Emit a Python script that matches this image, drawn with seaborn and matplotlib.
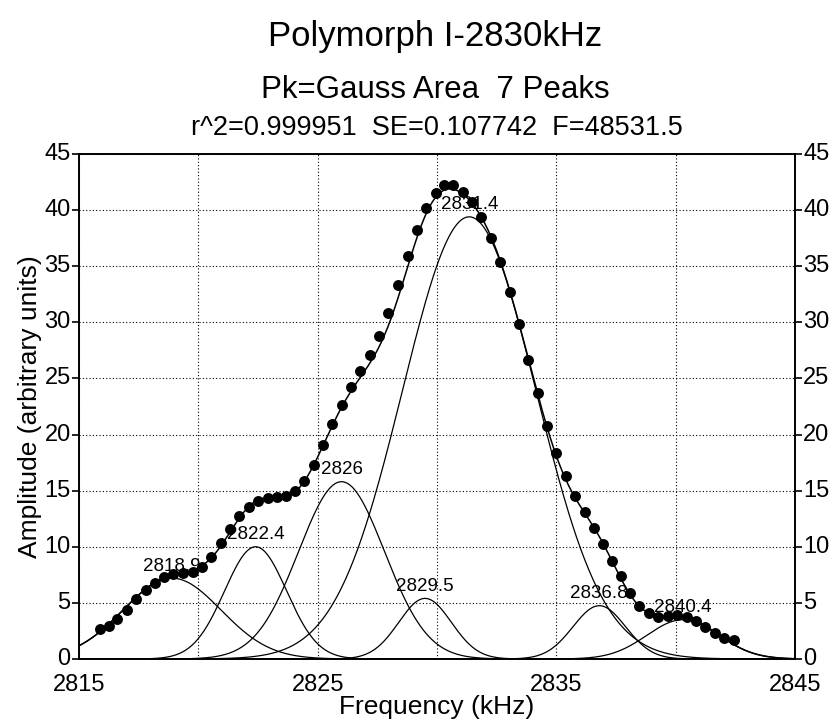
import numpy as np
import pandas as pd
import matplotlib
matplotlib.use('Agg')
import matplotlib.pyplot as plt
import matplotlib.transforms as mtransforms
import seaborn as sns
from matplotlib.ticker import MultipleLocator

# measured points (frequency in kHz, amplitude)
freq = [2815.88, 2816.27, 2816.60, 2817.00, 2817.40, 2817.79, 2818.18, 2818.57, 2818.95, 2819.34,
        2819.76, 2820.15, 2820.54, 2820.94, 2821.33, 2821.72, 2822.12, 2822.51, 2822.91, 2823.29,
        2823.66, 2824.05, 2824.44, 2824.83, 2825.22, 2825.61, 2826.00, 2826.39, 2826.79, 2827.18,
        2827.57, 2827.96, 2828.36, 2828.77, 2829.16, 2829.55, 2829.94, 2830.30, 2830.68, 2831.07,
        2831.46, 2831.85, 2832.25, 2832.64, 2833.04, 2833.43, 2833.82, 2834.22, 2834.61, 2835.00,
        2835.40, 2835.79, 2836.19, 2836.58, 2836.96, 2837.32, 2837.72, 2838.08, 2838.47, 2838.87,
        2839.27, 2839.68, 2840.07, 2840.46, 2840.85, 2841.24, 2841.63, 2842.04, 2842.43]
amp = [2.65, 2.97, 3.56, 4.37, 5.32, 6.15, 6.80, 7.28, 7.55, 7.64,
       7.78, 8.23, 9.06, 10.37, 11.61, 12.77, 13.57, 14.11, 14.35, 14.47,
       14.56, 14.97, 15.89, 17.26, 19.07, 20.94, 22.64, 24.27, 25.67, 27.09,
       28.79, 30.87, 33.30, 35.92, 38.24, 40.17, 41.51, 42.22, 42.22, 41.65,
       40.76, 39.37, 37.55, 35.36, 32.74, 29.83, 26.65, 23.68, 20.77, 18.33,
       16.34, 14.56, 13.10, 11.70, 10.27, 8.76, 7.37, 5.90, 4.72, 4.13,
       3.77, 3.83, 3.92, 3.77, 3.39, 2.83, 2.29, 1.90, 1.69]

# fitted gaussian peaks
peak_center = [2818.9, 2822.4, 2826.0, 2829.5, 2831.35, 2836.8, 2840.3]
peak_height = [7.2, 10.0, 15.8, 5.4, 39.4, 4.75, 3.5]
peak_sigma = [2.05, 1.3, 1.8, 1.1, 2.8, 1.1, 1.5]
peak_label = ['2818.9', '2822.4', '2826', '2829.5', '2831.4', '2836.8', '2840.4']

sns.set_style('white')
plt.rcParams['font.family'] = ['Liberation Sans', 'DejaVu Sans']
plt.rcParams['text.color'] = 'black'
plt.rcParams['axes.labelcolor'] = 'black'
plt.rcParams['xtick.color'] = 'black'
plt.rcParams['ytick.color'] = 'black'

# curves of the model
xx = np.linspace(2815, 2845, 700)
rows = []
total = np.zeros_like(xx)
for i, (c, h, s) in enumerate(zip(peak_center, peak_height, peak_sigma)):
    yy = h * np.exp(-(xx - c) ** 2 / (2 * s ** 2))
    total += yy
    rows.append(pd.DataFrame({'x': xx, 'y': yy, 'peak': i}))
comp_df = pd.concat(rows)
fit_df = pd.DataFrame({'x': xx, 'y': total})
pts_df = pd.DataFrame({'freq': freq, 'amp': amp})

fig = plt.figure(figsize=(8.33, 7.28), dpi=100)
ax = fig.add_axes([0.0948, 0.0948, 0.8596, 0.6937])

sns.lineplot(data=comp_df, x='x', y='y', units='peak', estimator=None,
             color='black', lw=0.9, ax=ax, zorder=2)
sns.lineplot(data=fit_df, x='x', y='y', color='black', lw=1.1, ax=ax, zorder=3)
for c, h, lab in zip(peak_center, peak_height, peak_label):
    ax.annotate(lab, (c, h), xytext=(0, 2.5), textcoords='offset points',
                ha='center', va='bottom', fontsize=13.5, zorder=3)
sns.scatterplot(data=pts_df, x='freq', y='amp', color='black', s=62,
                edgecolor='black', linewidth=0, ax=ax, zorder=4)

ax.set_xlim(2815, 2845)
ax.set_ylim(0, 45)
ax.xaxis.set_major_locator(MultipleLocator(10, offset=5))
ax.xaxis.set_minor_locator(MultipleLocator(10))
ax.yaxis.set_major_locator(MultipleLocator(5))
ax.grid(True, which='both', color='black', linestyle=(0, (1, 2)), linewidth=0.8)
ax.set_axisbelow(True)
ax.tick_params(axis='x', which='major', direction='out', length=5, width=1.2,
               labelsize=17, pad=6)
ax.tick_params(axis='x', which='minor', direction='in', length=4, width=1.2)
ax.tick_params(axis='y', which='major', direction='out', length=5, width=1.2,
               labelsize=17, pad=1, left=True, right=True, labelright=True)
for sp in ax.spines.values():
    sp.set_color('black')
    sp.set_linewidth(1.4)

# lift the y tick labels slightly so "0" clears the x tick labels
lift = mtransforms.ScaledTranslation(0, 1.8 / 72, fig.dpi_scale_trans)
for t in ax.yaxis.get_major_ticks():
    t.label1.set_transform(t.label1.get_transform() + lift)
    t.label2.set_transform(t.label2.get_transform() + lift)

ax.set_xlabel('Frequency (kHz)', fontsize=19, labelpad=-1)
ax.set_ylabel('Amplitude (arbitrary units)', fontsize=19, labelpad=2)

fig.text(0.522, 0.950, 'Polymorph I-2830kHz', ha='center', va='center', fontsize=25)
fig.text(0.522, 0.877, 'Pk=Gauss Area  7 Peaks', ha='center', va='center', fontsize=22.5)
fig.text(0.524, 0.824, 'r^2=0.999951  SE=0.107742  F=48531.5', ha='center', va='center', fontsize=19.5)

fig.savefig('out.png', dpi=100)
